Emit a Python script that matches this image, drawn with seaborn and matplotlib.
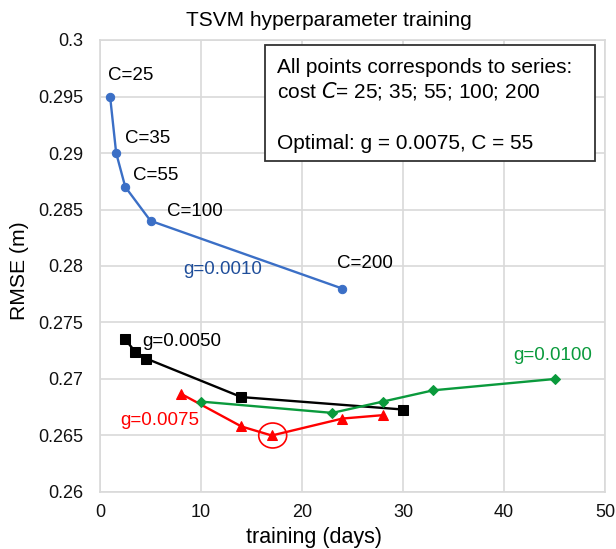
import matplotlib
matplotlib.use("Agg")
import matplotlib.pyplot as plt
import seaborn as sns
import pandas as pd
from matplotlib.patches import Ellipse

# Data
g0010_x = [1, 1.6, 2.5, 5, 24]
g0010_y = [0.295, 0.290, 0.287, 0.284, 0.278]
g0050_x = [2.5, 3.5, 4.6, 14, 30]
g0050_y = [0.2735, 0.2724, 0.2718, 0.2684, 0.2673]
g0075_x = [8, 14, 17, 24, 28]
g0075_y = [0.2687, 0.2658, 0.2650, 0.2665, 0.2668]
g0100_x = [10, 23, 28, 33, 45]
g0100_y = [0.2680, 0.2670, 0.2680, 0.2690, 0.2700]
cost_labels = ["C=25", "C=35", "C=55", "C=100", "C=200"]
series_names = ["g=0.0010", "g=0.0050", "g=0.0075", "g=0.0100"]
x_ticks = [0, 10, 20, 30, 40, 50]
y_ticks = [0.26, 0.265, 0.27, 0.275, 0.28, 0.285, 0.29, 0.295, 0.3]
y_tick_labels = ["0.26", "0.265", "0.27", "0.275", "0.28", "0.285", "0.29", "0.295", "0.3"]

sns.set_theme(style="whitegrid")
plt.rcParams['font.family'] = ['Liberation Sans', 'DejaVu Sans']
plt.rcParams['text.color'] = 'black'

W, H = 616, 549
fig = plt.figure(figsize=(W/100, H/100), dpi=100)
ax = fig.add_axes([100/W, 1-492/H, 505/W, 452/H])

blue = "#3B6FC6"
green = "#0A9A3C"
red = "#FF0000"
black = "#000000"

specs = [
    (g0010_x, g0010_y, blue, "o", 6),
    (g0050_x, g0050_y, black, "s", 7),
    (g0075_x, g0075_y, red, "^", 7),
    (g0100_x, g0100_y, green, "D", 5),
]
for (xs, ys, c, m, ms), name in zip(specs, series_names):
    df = pd.DataFrame({"x": xs, "y": ys})
    sns.lineplot(data=df, x="x", y="y", sort=False, color=c, marker=m,
                 markersize=ms, markeredgecolor=c, linewidth=1.7, ax=ax,
                 estimator=None)

ax.set_xlim(0, 50)
ax.set_ylim(0.26, 0.30)
ax.set_xticks(x_ticks)
ax.set_yticks(y_ticks)
ax.set_yticklabels(y_tick_labels)
ax.tick_params(axis="both", labelsize=13, colors="#111111")
ax.tick_params(axis="y", pad=6)
ax.tick_params(axis="x", pad=2.5)
ax.grid(True, color="#d9d9d9", linewidth=1.2)
for s in ax.spines.values():
    s.set_color("#d9d9d9")
    s.set_linewidth(1.2)
ax.set_xlabel("")
ax.set_ylabel("")

fig.text(329/W, 1-20/H, "TSVM hyperparameter training", ha="center", va="center", fontsize=15, color="black")
fig.text(20/W, 1-271/H, "RMSE (m)", rotation=90, ha="center", va="center", fontsize=15.2, color="black")
fig.text(314/W, 1-537/H, "training (days)", ha="center", va="center", fontsize=15.5, color="black")

# cost labels
cpos = [(0.8, 0.2969), (2.5, 0.2913), (3.27, 0.2880), (6.6, 0.2848), (23.5, 0.2802)]
for (x, y), t in zip(cpos, cost_labels):
    ax.text(x, y, t, fontsize=13.5, ha="left", va="center", color="black")

ax.text(8.2, 0.27965, series_names[0], fontsize=13.5, color="#1F4E9A", va="center")
ax.text(4.16, 0.2733, series_names[1], fontsize=13.5, color="black", va="center")
ax.text(1.98, 0.26637, series_names[2], fontsize=13.5, color=red, va="center")
ax.text(40.9, 0.27212, series_names[3], fontsize=13.5, color=green, va="center")

# circle around optimum
ax.add_patch(Ellipse((17.1, 0.2650), width=2.77, height=0.00221, fill=False,
                     edgecolor=red, linewidth=1.2, zorder=5))

# text box
bx0, by0, bx1, by1 = 265/W, 1-161/H, 595/W, 1-45/H
fig.patches.append(plt.Rectangle((bx0, by0), bx1-bx0, by1-by0, transform=fig.transFigure,
                                 facecolor="white", edgecolor="#333333", linewidth=1.3, zorder=10))
fig.text(277/W, 1-73/H, "All points corresponds to series:", fontsize=15, va="baseline", zorder=11, color="black")
fig.text(277/W, 1-97/H, "cost $\\it{C}$= 25; 35; 55; 100; 200", fontsize=15, va="baseline", zorder=11, color="black")
fig.text(277/W, 1-149/H, "Optimal: g = 0.0075, C = 55", fontsize=15, va="baseline", zorder=11, color="black")

fig.savefig("out.png", dpi=100)
